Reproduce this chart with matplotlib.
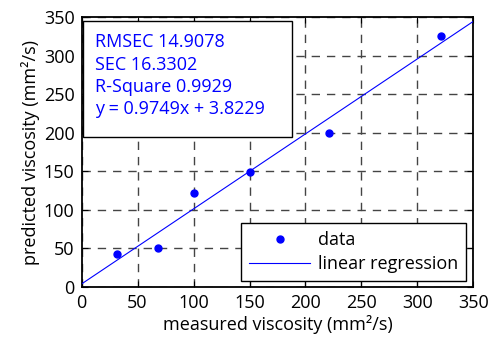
import matplotlib
matplotlib.use("Agg")
import matplotlib.pyplot as plt
import numpy as np

measured = [31.6, 68.0, 100.4, 150.4, 221.0, 320.8]
predicted = [42.5, 50.5, 122.0, 149.5, 199.5, 325.6]
slope = 0.9749
intercept = 3.8229
stats_lines = ["RMSEC 14.9078", "SEC 16.3302", "R-Square 0.9929", "y = 0.9749x + 3.8229"]
ticks = [0, 50, 100, 150, 200, 250, 300, 350]

plt.rcParams['font.family'] = ['Open Sans', 'DejaVu Sans']
fig = plt.figure(figsize=(4.97, 3.42), dpi=100)
ax = fig.add_axes([0.164, 0.161, 0.7887, 0.788])

ax.plot(measured, predicted, 'o', color='#0000ff', markersize=5.0, label='data', zorder=3)
xl = np.array([0, 350])
ax.plot(xl, slope * xl + intercept, '-', color='#0000ff', linewidth=0.8, label='linear regression', zorder=3)

ax.set_xlim(0, 350)
ax.set_ylim(0, 350)
ax.set_xticks(ticks)
ax.set_yticks(ticks)
ax.grid(True, color='#444444', linestyle=(0, (6, 5)), linewidth=1.0)
ax.tick_params(direction='in', top=True, right=True, length=4, labelsize=13, colors='black', pad=5)
for s in ax.spines.values():
    s.set_linewidth(1.3)
ax.set_xlabel('measured viscosity (mm²/s)', fontsize=13, labelpad=2)
ax.set_ylabel('predicted viscosity (mm²/s)', fontsize=13, labelpad=3)

# stats box
from matplotlib.patches import Rectangle
box = Rectangle((0.005, 0.556), 0.532, 0.432, transform=ax.transAxes, facecolor='white',
                edgecolor='black', linewidth=1.0, zorder=4)
ax.add_patch(box)
for i, t in enumerate(stats_lines):
    ax.text(0.035, 0.908 - i * 0.083, t, transform=ax.transAxes, color='#0000ff', fontsize=13,
            va='center', ha='left', zorder=5)

leg = ax.legend(loc='lower right', bbox_to_anchor=(0.981, 0.022), fontsize=13, frameon=True,
                fancybox=False, edgecolor='black', framealpha=1, borderpad=0.45, handlelength=3.4,
                handletextpad=0.4, labelspacing=0.3, borderaxespad=0)
leg.get_frame().set_linewidth(1.0)
leg.set_zorder(6)

fig.savefig('out.png', dpi=100)
